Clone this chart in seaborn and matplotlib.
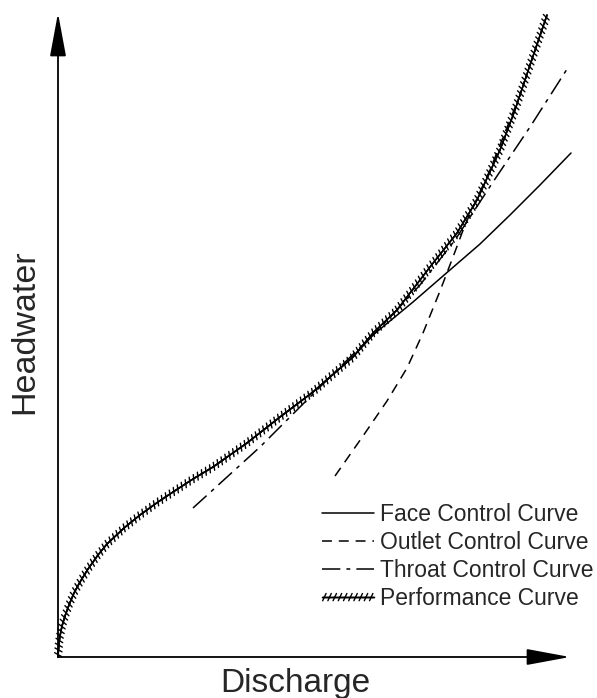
import matplotlib
matplotlib.use("Agg")
import matplotlib.pyplot as plt
import matplotlib.patheffects as pe
import seaborn as sns

# curve values (arbitrary units, origin at the axes corner)
face_q = [0, 1, 2, 4, 7, 11, 16, 22, 30, 40, 49, 66, 82, 100, 115, 135, 155, 189, 222, 255, 272, 295, 315,
          355, 385, 422, 452, 482, 513]
face_h = [0, 14, 21, 31, 41, 52, 64, 75, 88, 102, 113, 129, 142, 155, 165, 178, 190, 214, 240, 265, 280, 300, 322,
          355, 381, 413, 442, 472, 504]

outlet_q = [277, 305, 329, 349, 365, 382, 395, 407, 432, 462, 489]
outlet_h = [181, 221, 256, 289, 324, 366, 400, 432, 487, 562, 642]

throat_q = [135, 202, 279, 322, 362, 397, 435, 472, 511]
throat_h = [149, 210, 287, 329, 372, 417, 475, 530, 591]

perf_q = [0, 1, 2, 4, 7, 11, 16, 22, 30, 40, 49, 66, 82, 100, 115, 135, 155, 189, 222, 255, 272, 295, 315,
          339, 372, 399, 419, 442, 457, 472, 489]
perf_h = [0, 14, 21, 31, 41, 52, 64, 75, 88, 102, 113, 129, 142, 155, 165, 178, 190, 214, 240, 265, 280, 300, 324,
          347, 390, 424, 457, 507, 547, 592, 642]

labels = ["Face Control Curve", "Outlet Control Curve", "Throat Control Curve", "Performance Curve"]

sns.set_theme(style="white")
plt.rcParams['font.family'] = ['Liberation Sans', 'DejaVu Sans']

fig = plt.figure(figsize=(5.97, 6.98), dpi=100)
ax = fig.add_axes([58/597, 41/698, 512/597, 644/698])

sns.lineplot(x=face_q, y=face_h, ax=ax, color="black", lw=1.1,
             estimator=None, sort=False, label=labels[0])
sns.lineplot(x=outlet_q, y=outlet_h, ax=ax, color="black", lw=1.1,
             estimator=None, sort=False, label=labels[1])
ax.lines[-1].set_dashes((6.5, 4.5))
sns.lineplot(x=throat_q, y=throat_h, ax=ax, color="black", lw=1.1,
             estimator=None, sort=False, label=labels[2])
ax.lines[-1].set_dashes((12, 4, 2.5, 4))
sns.lineplot(x=perf_q, y=perf_h, ax=ax, color="black", lw=1.0,
             estimator=None, sort=False, label=labels[3])
ax.lines[-1].set_path_effects([
    pe.Stroke(),
    pe.withTickedStroke(spacing=3.4, angle=65, length=0.85, linewidth=1.0),
    pe.withTickedStroke(spacing=3.4, angle=-115, length=0.85, linewidth=1.0),
])

for ln in ax.lines:
    ln.set_clip_on(False)

ax.set_xlim(0, 512)
ax.set_ylim(0, 644)
ax.set_xticks([])
ax.set_yticks([])
for s in ax.spines.values():
    s.set_visible(False)

# axes with arrow heads
arrow = dict(arrowstyle="-|>,head_length=27,head_width=5", mutation_scale=1,
             lw=1.3, color="black", shrinkA=0, shrinkB=0)
ax.annotate("", xy=(1, 0), xytext=(0, 0), xycoords="axes fraction", arrowprops=arrow)
ax.annotate("", xy=(0, 1), xytext=(0, 0), xycoords="axes fraction", arrowprops=arrow)

fig.text(295/597, 1 - 692/698, "Discharge", fontsize=24, ha="center", va="baseline")
fig.text(25/597, 1 - 332/698, "Headwater", fontsize=24.5, ha="center", va="center", rotation=90)

leg = ax.legend(loc="upper left", bbox_to_anchor=(322/597, 1 - 503/698),
                bbox_transform=fig.transFigure, frameon=False, fontsize=16.5,
                handlelength=2.25, handletextpad=0.27, labelspacing=0.22,
                borderpad=0, borderaxespad=0)

fig.savefig("out.png", dpi=100, facecolor="white")
